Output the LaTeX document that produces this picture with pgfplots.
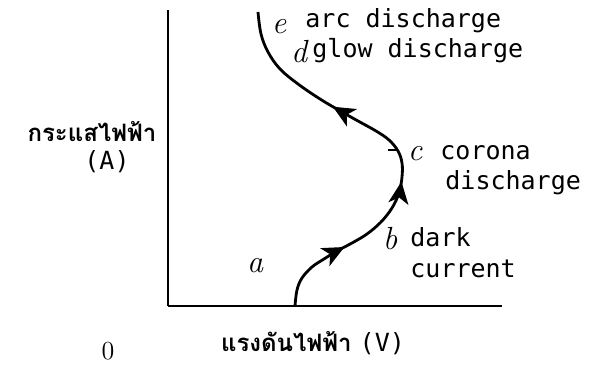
\documentclass[border=0pt]{standalone}
\usepackage{fontspec}
\usepackage{pgfplots}
\pgfplotsset{compat=1.18}
\usetikzlibrary{decorations.markings, arrows.meta}
\newfontfamily\thaifont[Script=Thai]{Loma}
\newfontfamily\labelfont{DejaVu Sans Mono}

\begin{document}
\begin{tikzpicture}
\begin{axis}[
  x=0.5pt, y=0.5pt,
  xmin=0, xmax=334, ymin=0, ymax=296,
  enlargelimits=false,
  axis x line=bottom, axis y line=left,
  axis line style={-, line width=1pt},
  xtick=\empty, ytick=\empty,
  clip=false,
]
% page frame
\path (axis cs:-168,-61) rectangle (axis cs:424,306);

% current-voltage characteristic of a gas discharge
\addplot[black, line width=1.4pt, smooth, tension=0.6,
  postaction={decorate},
  decoration={markings,
    mark=at position 0.20 with {\arrow{Stealth[length=11pt,width=10pt,inset=3pt]}},
    mark=at position 0.42 with {\arrow{Stealth[length=11pt,width=10pt,inset=3pt]}},
    mark=at position 0.69 with {\arrow{Stealth[length=11pt,width=10pt,inset=3pt]}}}]
coordinates {
(127,0) (129,16) (134,28) (144,39) (156,47) (169,55) (184,63) (199,72)
(213,84) (224,98) (231,113) (234,129) (234,143) (230,155) (221,166)
(208,175) (190,185) (174,194) (152,207) (130,222) (112,237) (100,254)
(93,272) (90,294)
};
% onset mark at c
\addplot[black, line width=0.9pt] coordinates {(220,156) (228,156)};

% axis titles
\node[font=\thaifont\bfseries\fontsize{12}{14}\selectfont] at (axis cs:-76,174) {กระแสไฟฟ้า};
\node[font=\labelfont\fontsize{12.5}{14}\selectfont] at (axis cs:-61,144) {(A)};
\node[font=\fontsize{13}{15}\selectfont] at (axis cs:-60,-45) {0};
\node[anchor=west] at (axis cs:46,-37) {\thaifont\bfseries\fontsize{12}{14}\selectfont แรงดันไฟฟ้า\ \labelfont\mdseries\fontsize{12.5}{14}\selectfont (V)};

% stage labels
\begin{scope}[every node/.style={font=\itshape\fontsize{16}{18}\selectfont}]
\node at (axis cs:111,279) {e};
\node at (axis cs:131,254) {d};
\node at (axis cs:247,152) {c};
\node at (axis cs:222,67) {b};
\node at (axis cs:87,40) {a};
\end{scope}
\begin{scope}[every node/.style={anchor=base west, inner sep=0pt, font=\labelfont\fontsize{12.5}{15}\selectfont}]
\node at (axis cs:137,278) {arc discharge};
\node at (axis cs:144,248) {glow discharge};
\node at (axis cs:272,146) {corona};
\node at (axis cs:277,116) {discharge};
\node at (axis cs:242,59) {dark};
\node at (axis cs:242,28) {current};
\end{scope}
\end{axis}
\end{tikzpicture}
\end{document}
